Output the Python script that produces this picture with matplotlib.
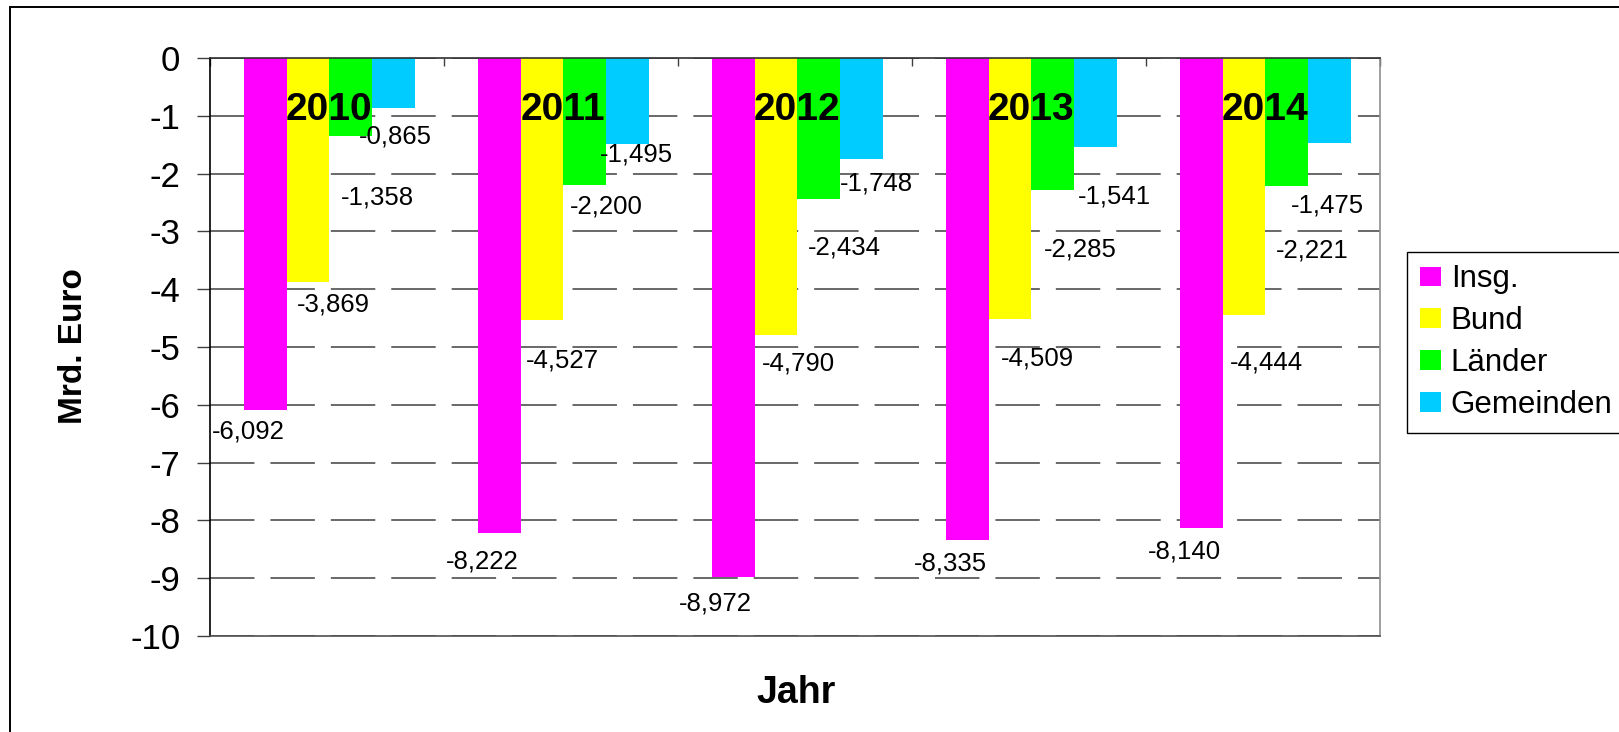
"""
Finanzierungssaldo 2010-2014 (Mrd. Euro): grouped bars hanging from zero
"""

import matplotlib
matplotlib.use("Agg")
import matplotlib.pyplot as plt
from matplotlib.patches import Rectangle

plt.rcParams['font.family'] = ['Liberation Sans', 'DejaVu Sans']
plt.rcParams['lines.scale_dashes'] = False

# data
years = ['2010', '2011', '2012', '2013', '2014']
series = ['Insg.', 'Bund', 'Länder', 'Gemeinden']
insg = [-6.092, -8.222, -8.972, -8.335, -8.140]
bund = [-3.869, -4.527, -4.790, -4.509, -4.444]
laender = [-1.358, -2.200, -2.434, -2.285, -2.221]
gemeinden = [-0.865, -1.495, -1.748, -1.541, -1.475]
y_ticks = [0, -1, -2, -3, -4, -5, -6, -7, -8, -9, -10]

colors = ['#ff00ff', '#ffff00', '#00ff00', '#00ccff']

# value label nudges (pixels: right, down from bar end), copied from the hand-placed labels
label_nudge_px = [
    [(-17, 21), (-17, 28), (-18, 27), (-17, 24), (-17, 23)],
    [(25, 23), (20, 41), (23, 29), (28, 40), (23, 48)],
    [(27, 61), (22, 21), (26, 49), (28, 59), (25, 64)],
    [(2, 29), (9, 10), (15, 24), (19, 49), (-2, 62)],
]

W, H = 1619, 732
fig = plt.figure(figsize=(W / 100, H / 100), dpi=100)
ax = fig.add_axes([210 / W, 1 - 636 / H, (1380 - 210) / W, (636 - 58) / H])

# outer chart frame (only left and top show inside the picture)
fig.patches.append(Rectangle((10 / W, -0.2), 1.2, (H - 7) / H + 0.2,
                             transform=fig.transFigure, fill=False,
                             edgecolor='black', linewidth=1.4))

bar_w = 0.183
all_vals = [insg, bund, laender, gemeinden]
x = list(range(len(years)))
for j, (name, vals) in enumerate(zip(series, all_vals)):
    pos = [i + (j - 1.5) * bar_w + 0.01 for i in x]
    bars = ax.bar(pos, vals, width=bar_w, color=colors[j], label=name,
                  zorder=2, linewidth=0)
    for k, (b, v) in enumerate(zip(bars, vals)):
        dx, dy = label_nudge_px[j][k]
        ax.annotate(f"{v:.3f}".replace('.', ','),
                    (b.get_x() + b.get_width() / 2, v),
                    xytext=(dx * 0.72, -dy * 0.72), textcoords='offset points',
                    ha='center', va='center', fontsize=18.5, zorder=4)

for i, yr in enumerate(years):
    ax.text(i + 0.01, -0.9, yr, ha='center', va='center', fontsize=28,
            fontweight='bold', zorder=5)

ax.set_xlim(-0.5, len(years) - 0.5)
ax.set_ylim(-10, 0)
ax.set_yticks(y_ticks)
ax.set_yticklabels([str(t) for t in y_ticks], fontsize=25)
ax.tick_params(axis='y', direction='out', length=9.4, width=1.0,
               color='#404040', pad=12)

ax.xaxis.tick_top()
ax.set_xticks([i - 0.5 for i in range(len(years) + 1)])
ax.set_xticklabels([])
ax.tick_params(axis='x', direction='in', length=6, width=1.0, color='#404040')

ax.yaxis.grid(True, color='#404040', linewidth=1.1,
              linestyle=(0, (32, 11.5)), zorder=1)
ax.set_axisbelow(True)

ax.spines['left'].set_color('black')
ax.spines['top'].set_color('#303030')
ax.spines['right'].set_color('#909090')
ax.spines['bottom'].set_color('#505050')
for s in ax.spines.values():
    s.set_linewidth(1.2)

fig.text(73 / W, 1 - 346 / H, 'Mrd. Euro', rotation=90, ha='center',
         va='center', fontsize=24, fontweight='bold')
fig.text(796 / W, 1 - 693 / H, 'Jahr', ha='center', va='center',
         fontsize=27, fontweight='bold')

leg = ax.legend(loc='upper left', bbox_to_anchor=(1407 / W, 1 - 252 / H),
                bbox_transform=fig.transFigure, borderaxespad=0,
                fontsize=22.5, frameon=True, fancybox=False, framealpha=1,
                handlelength=0.7, handleheight=0.6, handletextpad=0.3,
                labelspacing=0.38, borderpad=0.4)
leg.get_frame().set_edgecolor('black')
leg.get_frame().set_linewidth(1.0)

fig.savefig('out.png', dpi=100)
